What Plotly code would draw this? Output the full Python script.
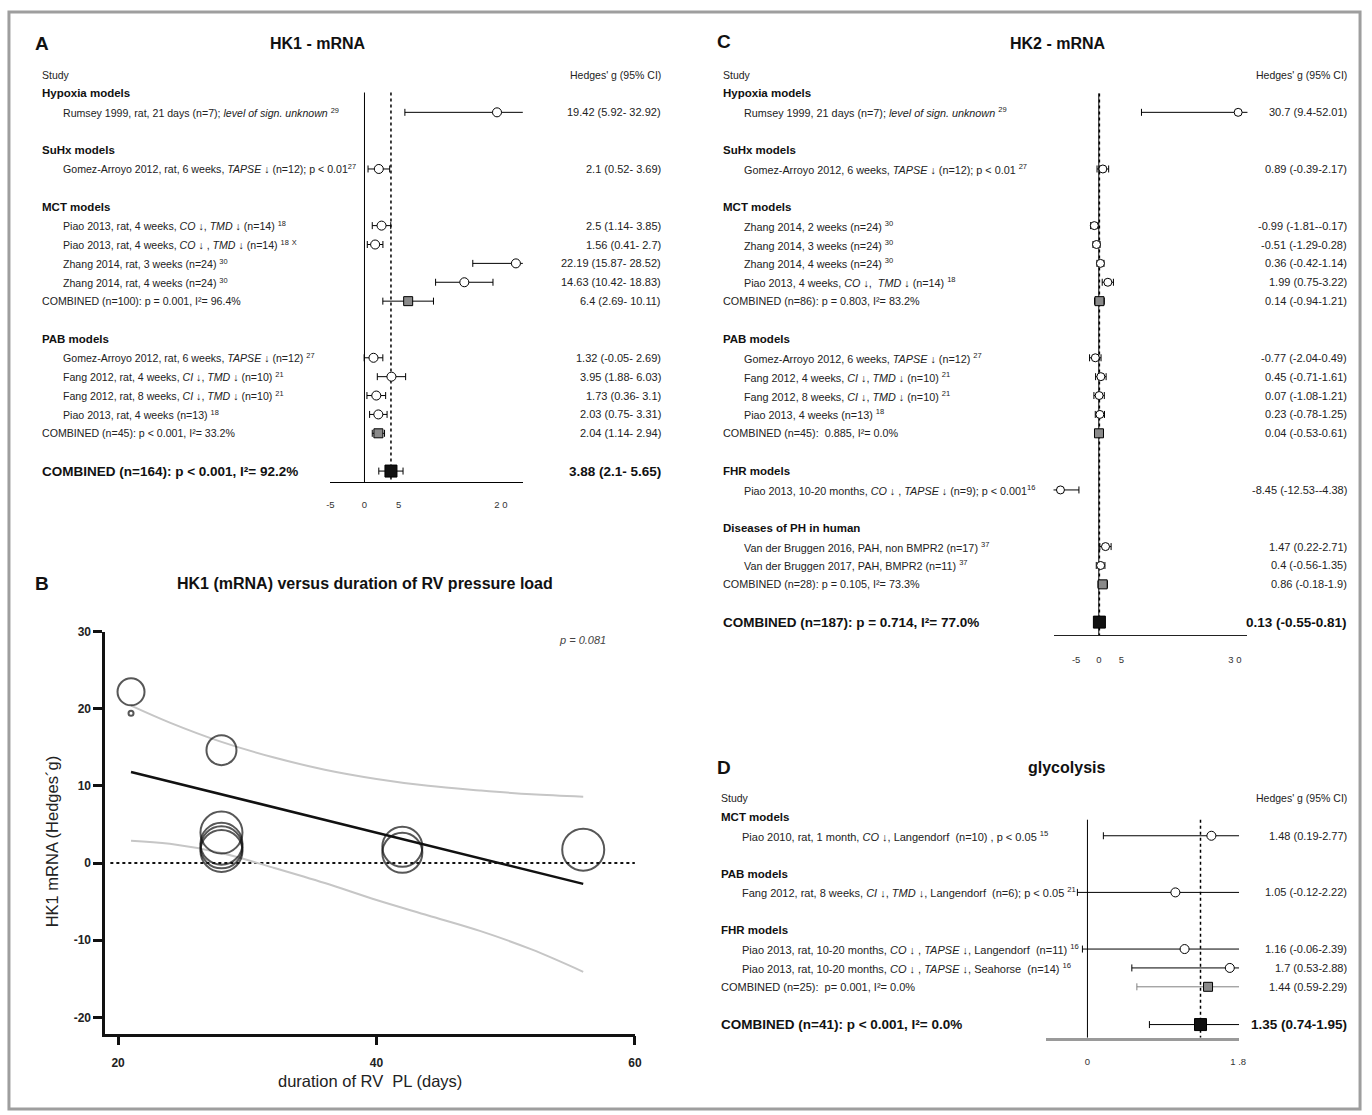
import plotly.graph_objects as go

W, H = 1372, 1115
FONT = "Liberation Sans, Arial, sans-serif"

# ================= DATA =================
# ---- Panel A : HK1 - mRNA ----
hk1_groups = ["Hypoxia models", "SuHx models", "MCT models", "PAB models"]
hk1_study_group = [0, 1, 2, 2, 2, 2, 3, 3, 3, 3]
hk1_study_labels = [
    "Rumsey 1999, rat, 21 days (n=7); <i>level of sign. unknown</i> <sup>29</sup>",
    "Gomez-Arroyo 2012, rat, 6 weeks, <i>TAPSE</i> ↓ (n=12); p &lt; 0.01<sup>27</sup>",
    "Piao 2013, rat, 4 weeks, <i>CO</i> ↓, <i>TMD</i> ↓ (n=14) <sup>18</sup>",
    "Piao 2013, rat, 4 weeks, <i>CO</i> ↓ , <i>TMD</i> ↓ (n=14) <sup>18</sup> <sup>X</sup>",
    "Zhang 2014, rat, 3 weeks (n=24) <sup>30</sup>",
    "Zhang 2014, rat, 4 weeks (n=24) <sup>30</sup>",
    "Gomez-Arroyo 2012, rat, 6 weeks, <i>TAPSE</i> ↓ (n=12) <sup>27</sup>",
    "Fang 2012, rat, 4 weeks, <i>CI</i> ↓, <i>TMD</i> ↓ (n=10) <sup>21</sup>",
    "Fang 2012, rat, 8 weeks, <i>CI</i> ↓, <i>TMD</i> ↓ (n=10) <sup>21</sup>",
    "Piao 2013, rat, 4 weeks (n=13) <sup>18</sup>",
]
hk1_g = [19.42, 2.1, 2.5, 1.56, 22.19, 14.63, 1.32, 3.95, 1.73, 2.03]
hk1_lo = [5.92, 0.52, 1.14, 0.41, 15.87, 10.42, -0.05, 1.88, 0.36, 0.75]
hk1_hi = [32.92, 3.69, 3.85, 2.7, 28.52, 18.83, 2.69, 6.03, 3.1, 3.31]
hk1_sub_group = [2, 3]
hk1_sub_labels = ["COMBINED (n=100): p = 0.001, I²= 96.4%",
                  "COMBINED (n=45): p &lt; 0.001, I²= 33.2%"]
hk1_sub_g = [6.4, 2.04]
hk1_sub_lo = [2.69, 1.14]
hk1_sub_hi = [10.11, 2.94]
hk1_total_label = "COMBINED (n=164): p &lt; 0.001, I²= 92.2%"
hk1_total = [3.88, 2.1, 5.65]
hk1_tickvals = [-5, 0, 5, 20]
hk1_ticktext = ["-5", "0", "5", "2 0"]

# ---- Panel C : HK2 - mRNA ----
hk2_groups = ["Hypoxia models", "SuHx models", "MCT models", "PAB models",
              "FHR models", "Diseases of PH in human"]
hk2_study_group = [0, 1, 2, 2, 2, 2, 3, 3, 3, 3, 4, 5, 5]
hk2_study_labels = [
    "Rumsey 1999, 21 days (n=7); <i>level of sign. unknown</i> <sup>29</sup>",
    "Gomez-Arroyo 2012, 6 weeks, <i>TAPSE</i> ↓ (n=12); p &lt; 0.01 <sup>27</sup>",
    "Zhang 2014, 2 weeks (n=24) <sup>30</sup>",
    "Zhang 2014, 3 weeks (n=24) <sup>30</sup>",
    "Zhang 2014, 4 weeks (n=24) <sup>30</sup>",
    "Piao 2013, 4 weeks, <i>CO</i> ↓,  <i>TMD</i> ↓ (n=14) <sup>18</sup>",
    "Gomez-Arroyo 2012, 6 weeks, <i>TAPSE</i> ↓ (n=12) <sup>27</sup>",
    "Fang 2012, 4 weeks, <i>CI</i> ↓, <i>TMD</i> ↓ (n=10) <sup>21</sup>",
    "Fang 2012, 8 weeks, <i>CI</i> ↓, <i>TMD</i> ↓ (n=10) <sup>21</sup>",
    "Piao 2013, 4 weeks (n=13) <sup>18</sup>",
    "Piao 2013, 10-20 months, <i>CO</i> ↓ , <i>TAPSE</i> ↓ (n=9); p &lt; 0.001<sup>16</sup>",
    "Van der Bruggen 2016, PAH, non BMPR2 (n=17) <sup>37</sup>",
    "Van der Bruggen 2017, PAH, BMPR2 (n=11) <sup>37</sup>",
]
hk2_g = [30.7, 0.89, -0.99, -0.51, 0.36, 1.99, -0.77, 0.45, 0.07, 0.23, -8.45, 1.47, 0.4]
hk2_lo = [9.4, -0.39, -1.81, -1.29, -0.42, 0.75, -2.04, -0.71, -1.08, -0.78, -12.53, 0.22, -0.56]
hk2_hi = [52.01, 2.17, -0.17, 0.28, 1.14, 3.22, 0.49, 1.61, 1.21, 1.25, -4.38, 2.71, 1.35]
hk2_sub_group = [2, 3, 5]
hk2_sub_labels = ["COMBINED (n=86): p = 0.803, I²= 83.2%",
                  "COMBINED (n=45):  0.885, I²= 0.0%",
                  "COMBINED (n=28): p = 0.105, I²= 73.3%"]
hk2_sub_g = [0.14, 0.04, 0.86]
hk2_sub_lo = [-0.94, -0.53, -0.18]
hk2_sub_hi = [1.21, 0.61, 1.9]
hk2_total_label = "COMBINED (n=187): p = 0.714, I²= 77.0%"
hk2_total = [0.13, -0.55, 0.81]
hk2_tickvals = [-5, 0, 5, 30]
hk2_ticktext = ["-5", "0", "5", "3 0"]

# ---- Panel D : glycolysis ----
gly_groups = ["MCT models", "PAB models", "FHR models"]
gly_study_group = [0, 1, 2, 2]
gly_study_labels = [
    "Piao 2010, rat, 1 month, <i>CO</i> ↓, Langendorf  (n=10) , p &lt; 0.05 <sup>15</sup>",
    "Fang 2012, rat, 8 weeks, <i>CI</i> ↓, <i>TMD</i> ↓, Langendorf  (n=6); p &lt; 0.05 <sup>21</sup>",
    "Piao 2013, rat, 10-20 months, <i>CO</i> ↓ , <i>TAPSE</i> ↓, Langendorf  (n=11) <sup>16</sup>",
    "Piao 2013, rat, 10-20 months, <i>CO</i> ↓ , <i>TAPSE</i> ↓, Seahorse  (n=14) <sup>16</sup>",
]
gly_g = [1.48, 1.05, 1.16, 1.7]
gly_lo = [0.19, -0.12, -0.06, 0.53]
gly_hi = [2.77, 2.22, 2.39, 2.88]
gly_sub_group = [2]
gly_sub_labels = ["COMBINED (n=25):  p= 0.001, I²= 0.0%"]
gly_sub_g = [1.44]
gly_sub_lo = [0.59]
gly_sub_hi = [2.29]
gly_total_label = "COMBINED (n=41): p &lt; 0.001, I²= 0.0%"
gly_total = [1.35, 0.74, 1.95]
gly_tickvals = [0, 1.8]
gly_ticktext = ["0", "1 .8"]

# ---- Panel B : meta-regression HK1 vs duration ----
dur_days = [21, 21, 28, 28, 28, 28, 28, 42, 42, 56]
hk1_effect = [22.19, 19.42, 14.63, 2.5, 1.56, 3.95, 2.03, 2.1, 1.32, 1.73]
reg_x = [21, 56]
reg_y = [11.8, -2.7]
ci_x = [21, 24, 28, 32, 36, 40, 44, 48, 52, 56]
ci_upper = [20.4, 18.2, 15.7, 13.7, 12.1, 10.9, 10.0, 9.4, 8.9, 8.6]
ci_lower = [2.9, 2.5, 1.3, -0.6, -2.6, -4.8, -6.8, -8.8, -11.2, -14.1]
dur_ticks = [20, 40, 60]
eff_ticks = [-20, -10, 0, 10, 20, 30]
eff_ticktext = ["-20", "-10", "0", "10", "20", "30"]


# ================= HELPERS =================
def px(x):
    return x / W


def py(y):
    return 1 - y / H


def row_slots(groups, study_group, sub_group):
    slot = 0
    header, studies, subs = [], [None] * len(study_group), [None] * len(sub_group)
    for gi in range(len(groups)):
        header.append(slot)
        slot += 1
        for si, sg in enumerate(study_group):
            if sg == gi:
                studies[si] = slot
                slot += 1
        for k, sg in enumerate(sub_group):
            if sg == gi:
                subs[k] = slot
                slot += 1
        slot += 1
    return header, studies, subs, slot


def fmt_ci(g, lo, hi, sep):
    return f"{g:g} ({lo:g}-{sep}{hi:g})"


fig = go.Figure()
annotations = []
shapes = []


def note(x, y, text, yref="paper", size=10.5, anchor="left", color="#1a1a1a",
         angle=0, family=FONT):
    annotations.append(dict(
        x=x, y=y, xref="paper", yref=yref, text=text, showarrow=False,
        xanchor=anchor, yanchor="middle", textangle=angle,
        font=dict(family=family, size=size, color=color)))


def forest(ax, groups, study_group, labels, g, lo, hi, sub_group, sub_labels,
           sub_g, sub_lo, sub_hi, total_label, total, cfg):
    xa = "x" + ax
    ya = "y" + ax
    header, studies, subs, tslot = row_slots(groups, study_group, sub_group)
    yref = ya
    note(px(cfg["left"]), -1, "Study", yref, size=10.5, color="#222")
    note(px(cfg["right"]), -1, "Hedges' g (95% CI)", yref, size=10.5,
         anchor="right", color="#222")
    for gi, name in enumerate(groups):
        note(px(cfg["left"]), header[gi], f"<b>{name}</b>", yref, size=11.5,
             color="#111")
    for si, lab in enumerate(labels):
        note(px(cfg["indent"]), studies[si], lab, yref, size=cfg["lsize"], color="#222")
        note(px(cfg["right"]), studies[si], fmt_ci(g[si], lo[si], hi[si], cfg["sep"]),
             yref, size=11, anchor="right", color="#222")
    for k, lab in enumerate(sub_labels):
        note(px(cfg["left"]), subs[k], lab, yref, size=cfg["lsize"], color="#222")
        note(px(cfg["right"]), subs[k], fmt_ci(sub_g[k], sub_lo[k], sub_hi[k], cfg["sep"]),
             yref, size=11, anchor="right", color="#222")
    note(px(cfg["left"]), tslot, f"<b>{total_label}</b>", yref, size=13.5, color="#111")
    note(px(cfg["right"]), tslot,
         "<b>" + fmt_ci(total[0], total[1], total[2], cfg["sep"]) + "</b>",
         yref, size=13.5, anchor="right", color="#111")

    err = dict(type="data", symmetric=False, thickness=1, width=3.5, color="black")
    fig.add_trace(go.Scatter(
        x=g, y=studies, mode="markers", xaxis=xa, yaxis=ya, hoverinfo="skip",
        marker=dict(symbol="circle", size=cfg["msize"], color="white",
                    line=dict(color="black", width=1)),
        error_x=dict(err, array=[h - v for h, v in zip(hi, g)],
                     arrayminus=[v - l for v, l in zip(g, lo)])))
    fig.add_trace(go.Scatter(
        x=sub_g, y=subs, mode="markers", xaxis=xa, yaxis=ya, hoverinfo="skip",
        marker=dict(symbol="square", size=9, color="#8a8a8a",
                    line=dict(color="black", width=1)),
        error_x=dict(err, color=cfg["subcolor"],
                     array=[h - v for h, v in zip(sub_hi, sub_g)],
                     arrayminus=[v - l for v, l in zip(sub_g, sub_lo)])))
    fig.add_trace(go.Scatter(
        x=[total[0]], y=[tslot], mode="markers", xaxis=xa, yaxis=ya, hoverinfo="skip",
        marker=dict(symbol="square", size=12, color="#111",
                    line=dict(color="black", width=1)),
        error_x=dict(err, array=[total[2] - total[0]], arrayminus=[total[0] - total[1]])))

    bottom = tslot + cfg["axis_gap"]
    top = -1.5
    shapes.append(dict(type="line", xref=xa, yref=ya, x0=0, x1=0,
                       y0=cfg["line_top"], y1=bottom, layer="below",
                       line=dict(color="black", width=1)))
    shapes.append(dict(type="line", xref=xa, yref=ya, x0=total[0], x1=total[0],
                       y0=cfg["line_top"], y1=bottom, layer="below",
                       line=dict(color="black", width=1.5, dash="dot")))
    y0px = cfg["slot0"] + top * cfg["step"]
    y1px = cfg["slot0"] + bottom * cfg["step"]
    fig.update_layout(**{
        "xaxis" + ax: dict(domain=[px(cfg["xd"][0]), px(cfg["xd"][1])], range=cfg["xr"],
                           anchor=ya, showline=True, linecolor=cfg["axcolor"],
                           linewidth=cfg["axwidth"], ticks="", showgrid=False,
                           zeroline=False, tickvals=cfg["tickvals"],
                           ticktext=cfg["ticktext"], ticklabelstandoff=cfg["standoff"],
                           tickfont=dict(family=FONT, size=9.5, color="#333"),
                           fixedrange=True),
        "yaxis" + ax: dict(domain=[py(y1px), py(y0px)], range=[bottom, top],
                           anchor=xa, visible=False, fixedrange=True),
    })


# ---- Panel A ----
forest("", hk1_groups, hk1_study_group, hk1_study_labels, hk1_g, hk1_lo, hk1_hi,
       hk1_sub_group, hk1_sub_labels, hk1_sub_g, hk1_sub_lo, hk1_sub_hi,
       hk1_total_label, hk1_total,
       dict(left=36, indent=57, right=664, sep=" ", slot0=87, step=19,
            xd=(329, 523), xr=[-5.0, 23.2], tickvals=hk1_tickvals,
            ticktext=hk1_ticktext, standoff=13, axis_gap=0.6, line_top=-0.05,
            msize=9, subcolor="black", axcolor="black", axwidth=1, lsize=10.6))

# ---- Panel C ----
forest("3", hk2_groups, hk2_study_group, hk2_study_labels, hk2_g, hk2_lo, hk2_hi,
       hk2_sub_group, hk2_sub_labels, hk2_sub_g, hk2_sub_lo, hk2_sub_hi,
       hk2_total_label, hk2_total,
       dict(left=723, indent=744, right=1356, sep="", slot0=87, step=19,
            xd=(1058, 1253.5), xr=[-9.98, 32.75], tickvals=hk2_tickvals,
            ticktext=hk2_ticktext, standoff=15, axis_gap=0.7, line_top=0,
            msize=8, subcolor="black", axcolor="#222", axwidth=1, lsize=10.8))

# ---- Panel D ----
forest("4", gly_groups, gly_study_group, gly_study_labels, gly_g, gly_lo, gly_hi,
       gly_sub_group, gly_sub_labels, gly_sub_g, gly_sub_lo, gly_sub_hi,
       gly_total_label, gly_total,
       dict(left=721, indent=742, right=1356, sep="", slot0=815, step=19,
            xd=(1050, 1245), xr=[-0.5, 1.81], tickvals=gly_tickvals,
            ticktext=gly_ticktext, standoff=13, axis_gap=0.7, line_top=0.15,
            msize=9, subcolor="#808080", axcolor="#9a9a9a", axwidth=2.5, lsize=11))

# ---- Panel B ----
fig.add_trace(go.Scatter(x=ci_x, y=ci_upper, mode="lines", xaxis="x2", yaxis="y2",
                         hoverinfo="skip",
                         line=dict(color="#c6c6c6", width=2, shape="spline")))
fig.add_trace(go.Scatter(x=ci_x, y=ci_lower, mode="lines", xaxis="x2", yaxis="y2",
                         hoverinfo="skip",
                         line=dict(color="#c6c6c6", width=2, shape="spline")))
fig.add_trace(go.Scatter(x=reg_x, y=reg_y, mode="lines", xaxis="x2", yaxis="y2",
                         hoverinfo="skip", line=dict(color="#111", width=2.5)))
bubble_px = [27, 5, 30, 42, 42, 42, 42, 40, 40, 42]
fig.add_trace(go.Scatter(x=dur_days, y=hk1_effect, mode="markers", xaxis="x2",
                         yaxis="y2", hoverinfo="skip",
                         marker=dict(size=bubble_px, color="rgba(0,0,0,0)",
                                     line=dict(color="#111", width=2))))
shapes.append(dict(type="line", xref="x2", yref="y2", x0=19.4, x1=60, y0=0, y1=0,
                   layer="below", line=dict(color="#111", width=2, dash="dot")))

bx0, bx1 = 102, 636
by0, by1 = 628.5, 1033
fig.update_layout(
    xaxis2=dict(domain=[px(bx0), px(bx1)], range=[19, 60], anchor="y2",
                showline=True, linecolor="#111", linewidth=2.5, ticks="outside",
                ticklen=9, tickwidth=2.5, tickcolor="#111", tickvals=dur_ticks,
                showgrid=False, zeroline=False, ticklabelstandoff=7,
                tickfont=dict(family=FONT, size=12, color="#222", weight="bold"),
                fixedrange=True),
    yaxis2=dict(domain=[py(by1), py(by0)], range=[-22.1, 30], anchor="x2",
                showline=True, linecolor="#111", linewidth=2.5, ticks="outside",
                ticklen=9, tickwidth=2.5, tickcolor="#111", tickvals=eff_ticks,
                ticktext=eff_ticktext, showgrid=False, zeroline=False,
                tickfont=dict(family=FONT, size=12, color="#222", weight="bold"),
                fixedrange=True),
)
note(px(369), py(1081), "duration of RV  PL (days)", size=16.5, anchor="center",
     color="#222")
note(px(48), py(840), "HK1 mRNA (Hedges´g)", size=16.5, anchor="center",
     color="#222", angle=-90)
note(px(583), py(637), "<i>p = 0.081</i>", size=11, anchor="center", color="#444")

# ---- panel letters and titles ----
note(px(29), py(37), "<b>A</b>", size=19, color="#111")
note(px(317), py(37), "<b>HK1 - mRNA</b>", size=16, anchor="center", color="#111")
note(px(29), py(580), "<b>B</b>", size=19, color="#111")
note(px(364), py(580), "<b>HK1 (mRNA) versus duration of RV pressure load</b>", size=16,
     anchor="center", color="#111")
note(px(717), py(35), "<b>C</b>", size=19, color="#111")
note(px(1063), py(37), "<b>HK2 - mRNA</b>", size=16, anchor="center", color="#111")
note(px(717), py(765), "<b>D</b>", size=19, color="#111")
note(px(1071), py(765), "<b>glycolysis</b>", size=16, anchor="center", color="#111")

# ---- outer frame ----
shapes.append(dict(type="rect", xref="paper", yref="paper", x0=px(5), x1=px(1367),
                   y0=py(1109), y1=py(5), line=dict(color="#9e9e9e", width=3)))

fig.update_layout(
    width=W, height=H, autosize=False,
    margin=dict(l=0, r=0, t=0, b=0, pad=0),
    paper_bgcolor="white", plot_bgcolor="white",
    showlegend=False,
    annotations=annotations, shapes=shapes,
    font=dict(family=FONT, color="#222"),
)

fig.write_html("out.html")
